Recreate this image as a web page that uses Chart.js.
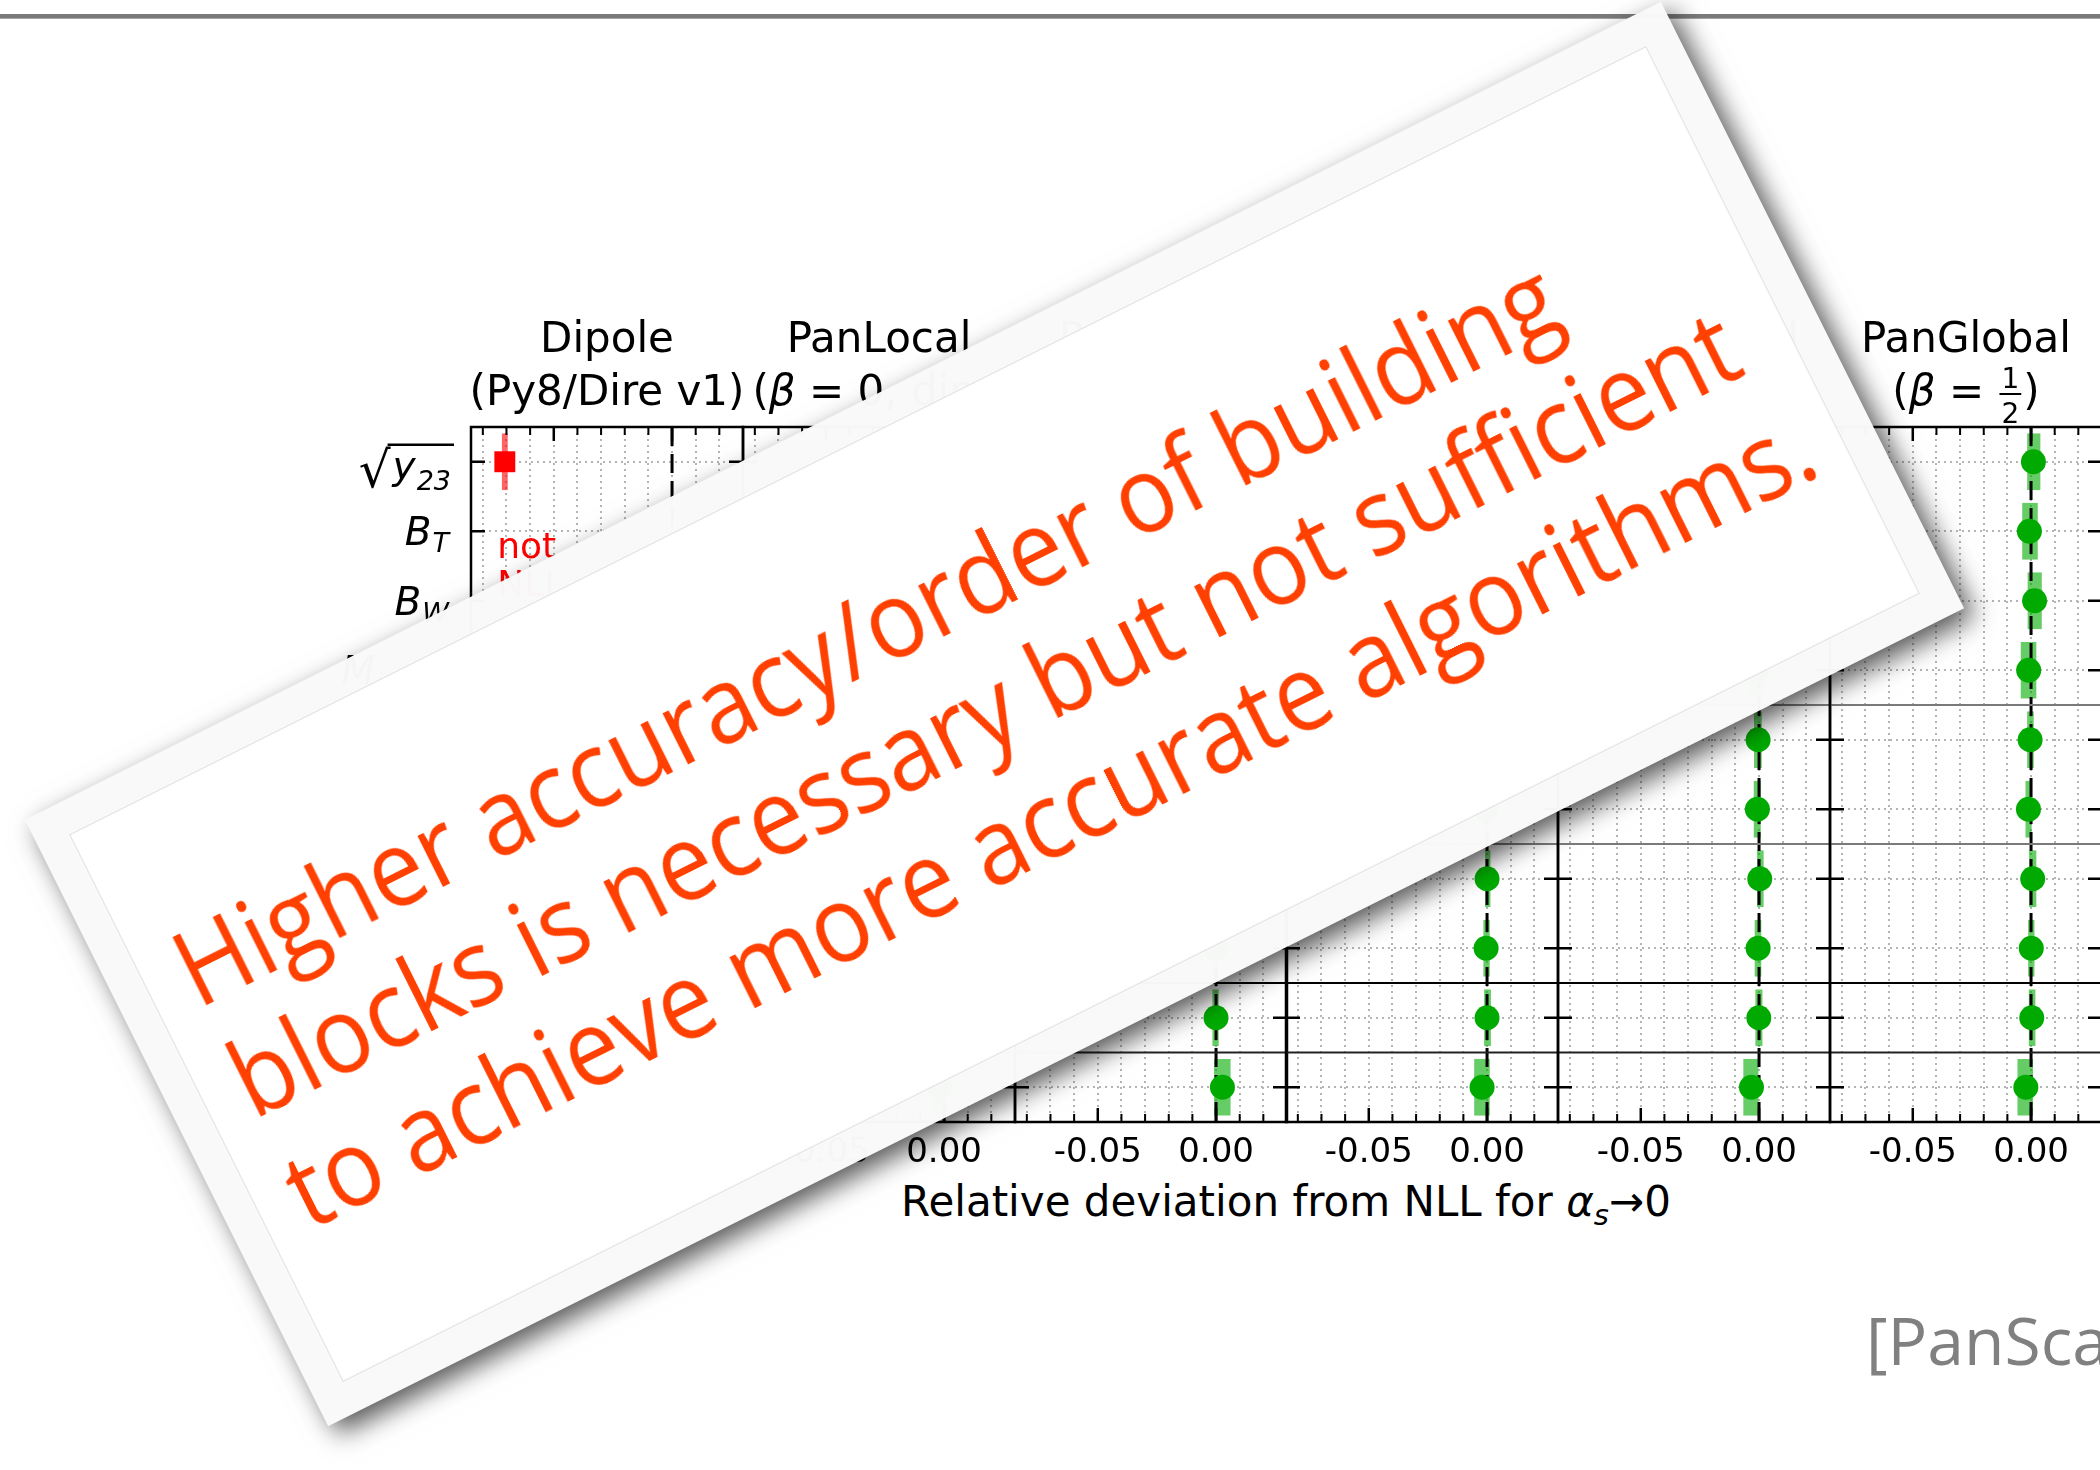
<!DOCTYPE html>
<html>
<head>
<meta charset="utf-8">
<script src="https://cdn.jsdelivr.net/npm/chart.js@4.4.1/dist/chart.umd.min.js"></script>
<style>
html, body { margin: 0; padding: 0; background: #fff; }
#page { position: relative; width: 2100px; height: 1470px; overflow: hidden; background: #fff; }
#topline { position: absolute; left: 0; top: 14px; width: 2100px; height: 5px;
  background: linear-gradient(#7a7a7a 0, #7a7a7a 70%, #b8b8b8 100%); }
canvas { position: absolute; }
#xtitle { position: absolute; left: 686px; width: 1200px; top: 1181px; text-align: center;
  font: 42px/42px "DejaVu Sans"; color: #000; white-space: nowrap; }
#xtitle sub { font-size: 29px; vertical-align: -9px; line-height: 0; }
#brand { position: absolute; left: 1866px; top: 1306px; font: 66px/66px "Open Sans";
  color: #808080; white-space: nowrap; }
#card { position: absolute; left: 80px; top: 375px; width: 1829px; height: 678px;
  transform: rotate(-26.565deg); background: rgba(249,249,249,0.985);
  box-shadow: 6px 12px 24px rgba(0,0,0,0.65); }
#inner { position: absolute; left: 33px; top: 33px; right: 33px; bottom: 33px;
  background: #fff; border: 1.5px solid #e0e0e0; }
.msg { position: absolute; left: 70px; font: 106px/106px "Open Sans"; color: #ff4000;
  white-space: nowrap; transform-origin: 0 0; transform: scaleX(0.925); }
</style>
</head>
<body>
<div id="page">
  <div id="topline"></div>
  <div id="xtitle">Relative deviation from NLL for <i>α</i><sub><i>s</i></sub>→0</div>
  <div id="brand">[PanScales]</div>
  <div id="card">
    <div id="inner"></div>
    <div class="msg" style="top:153px">Higher accuracy/order of building</div>
    <div class="msg" style="top:277px">blocks is necessary but not sufficient</div>
    <div class="msg" style="top:401px">to achieve more accurate algorithms.</div>
  </div>
</div>
<script>
// panel headers
const panelTitle = ['Dipole', 'PanLocal', 'PanLocal', 'PanLocal', 'PanGlobal', 'PanGlobal'];
const panelSubtitle = ['(Py8/Dire v1)', '(β = 0, dip.)', '(β = 1/2, dip.)', '(β = 1/2, ant.)', '(β = 0)', '(β = 1/2)'];

// observables, top to bottom
const obsSymbol = ['y', 'B', 'B', 'M', 'S', 'M', 'S', 'M', 'FC', 'S'];
const obsSub = ['23', 'T', 'W', 'j,β=0', 'j,β=½', 'j,β=½', 'j,β=1', 'j,β=1', '1', 'p,β=0'];
const obsRoot = [true, false, false, false, false, false, false, false, false, false];
const rowSeparators = [3.5, 5.5, 7.5, 8.5];

// x axis
const xGridTicks = [-0.08, -0.07, -0.06, -0.05, -0.04, -0.03, -0.02, -0.01, 0, 0.01, 0.02];
const xMajorTicks = [-0.05, 0];
const xTickLabels = ['-0.05', '0.00'];

// relative deviation and band per shower
const dipoleDev = [-0.0707, null, null, null, null, null, null, null, null, null];
const dipoleLo  = [-0.0718, null, null, null, null, null, null, null, null, null];
const dipoleHi  = [-0.0696, null, null, null, null, null, null, null, null, null];

const panLocal0Dev = [0.0008, -0.0005, 0.0012, -0.0009, 0.0003, -0.0006, 0.0004, -0.0002, 0.0005, -0.0018];
const panLocal0Lo  = [-0.0012, -0.0030, -0.0014, -0.0036, -0.0009, -0.0018, -0.0008, -0.0013, -0.0007, -0.0050];
const panLocal0Hi  = [0.0030, 0.0021, 0.0040, 0.0018, 0.0014, 0.0005, 0.0017, 0.0010, 0.0018, 0.0011];

const panLocalDipDev = [0.0005, -0.0008, 0.0010, -0.0006, -0.0003, -0.0005, 0.0002, -0.0003, 0.0000, 0.0027];
const panLocalDipLo  = [-0.0016, -0.0034, -0.0016, -0.0035, -0.0015, -0.0018, -0.0010, -0.0014, -0.0014, -0.0007];
const panLocalDipHi  = [0.0029, 0.0022, 0.0038, 0.0022, 0.0010, 0.0007, 0.0015, 0.0009, 0.0010, 0.0060];

const panLocalAntDev = [0.0006, -0.0004, 0.0011, -0.0010, -0.0002, -0.0006, 0.0000, -0.0004, 0.0000, -0.0021];
const panLocalAntLo  = [-0.0014, -0.0031, -0.0015, -0.0040, -0.0014, -0.0019, -0.0007, -0.0014, -0.0011, -0.0053];
const panLocalAntHi  = [0.0031, 0.0024, 0.0039, 0.0019, 0.0011, 0.0006, 0.0013, 0.0010, 0.0015, 0.0010];

const panGlobal0Dev = [0.0009, -0.0006, 0.0013, -0.0008, -0.0004, -0.0007, 0.0003, -0.0004, -0.0001, -0.0032];
const panGlobal0Lo  = [-0.0015, -0.0033, -0.0014, -0.0039, -0.0020, -0.0021, -0.0007, -0.0017, -0.0014, -0.0065];
const panGlobal0Hi  = [0.0035, 0.0025, 0.0041, 0.0022, 0.0010, 0.0006, 0.0018, 0.0008, 0.0013, 0.0000];

const panGlobalHalfDev = [0.0010, -0.0007, 0.0015, -0.0010, -0.0004, -0.0011, 0.0007, 0.0001, 0.0003, -0.0022];
const panGlobalHalfLo  = [-0.0015, -0.0036, -0.0013, -0.0042, -0.0015, -0.0022, -0.0007, -0.0011, -0.0008, -0.0056];
const panGlobalHalfHi  = [0.0038, 0.0027, 0.0044, 0.0021, 0.0010, 0.0001, 0.0021, 0.0013, 0.0017, 0.0007];

const showers = [
  { dev: dipoleDev, lo: dipoleLo, hi: dipoleHi, nll: false },
  { dev: panLocal0Dev, lo: panLocal0Lo, hi: panLocal0Hi, nll: true },
  { dev: panLocalDipDev, lo: panLocalDipLo, hi: panLocalDipHi, nll: true },
  { dev: panLocalAntDev, lo: panLocalAntLo, hi: panLocalAntHi, nll: true },
  { dev: panGlobal0Dev, lo: panGlobal0Lo, hi: panGlobal0Hi, nll: true },
  { dev: panGlobalHalfDev, lo: panGlobalHalfLo, hi: panGlobalHalfHi, nll: true }
];

// page geometry
const LEFT0 = 471, PANEL_STEP = 271.8, PANEL_W = 272;
const CANVAS_TOP = 250, CANVAS_H = 1000, PLOT_TOP = 427, PLOT_BOTTOM = 1122;
const FONT = '"DejaVu Sans"';

function drawSubtitle(ctx, str, cx, base) {
  const parts = str.split(/(β|1\/2)/).filter(s => s.length);
  const widths = parts.map(p => {
    if (p === '1/2') { ctx.font = '28px ' + FONT; return ctx.measureText('1').width + 8; }
    ctx.font = (p === 'β' ? 'italic ' : '') + '42px ' + FONT;
    return ctx.measureText(p).width;
  });
  let x = cx - widths.reduce((a, b) => a + b, 0) / 2;
  ctx.textAlign = 'left';
  parts.forEach((p, k) => {
    if (p === '1/2') {
      ctx.font = '28px ' + FONT;
      ctx.textAlign = 'center';
      const mx = x + widths[k] / 2;
      ctx.fillText('1', mx, base - 17);
      ctx.fillText('2', mx, base + 18);
      ctx.lineWidth = 2;
      ctx.beginPath(); ctx.moveTo(x + 2, base - 11); ctx.lineTo(x + widths[k] - 2, base - 11); ctx.stroke();
      ctx.textAlign = 'left';
    } else {
      ctx.font = (p === 'β' ? 'italic ' : '') + '42px ' + FONT;
      ctx.fillText(p, x, base);
    }
    x += widths[k];
  });
}

function drawObsLabel(ctx, r, xRight, yMid) {
  const root = obsRoot[r];
  const base = yMid + (root ? 17 : 14);
  const subBase = base + (root ? 11 : 7);
  ctx.font = 'italic 39px ' + FONT;
  const w1 = ctx.measureText(obsSymbol[r]).width;
  ctx.font = 'italic 27px ' + FONT;
  const w2 = ctx.measureText(obsSub[r]).width;
  ctx.font = '50px ' + FONT;
  const rw = root ? ctx.measureText('√').width : 0;
  let x = xRight - w1 - w2 - 4 - rw;
  ctx.textAlign = 'left';
  if (root) {
    ctx.fillText('√', x, yMid + 25);
    ctx.lineWidth = 2.4;
    ctx.beginPath(); ctx.moveTo(x + rw - 3, yMid - 17); ctx.lineTo(xRight + 2, yMid - 17); ctx.stroke();
    x += rw + 2;
  }
  ctx.font = 'italic 39px ' + FONT;
  ctx.fillText(obsSymbol[r], x, base);
  ctx.font = 'italic 27px ' + FONT;
  ctx.fillText(obsSub[r], x + w1 + 1, subBase);
}

const decorPlugin = {
  id: 'decor',
  afterDraw(chart, args, opts) {
    const ctx = chart.ctx, a = chart.chartArea;
    const xs = chart.scales.x, ys = chart.scales.y;
    const i = opts.index;
    ctx.save();
    ctx.strokeStyle = '#000';
    ctx.fillStyle = '#000';
    // inward ticks on all sides
    xGridTicks.forEach(v => {
      const px = xs.getPixelForValue(v);
      const len = xMajorTicks.includes(v) ? 14 : 8;
      ctx.lineWidth = xMajorTicks.includes(v) ? 2.5 : 2;
      ctx.beginPath();
      ctx.moveTo(px, a.top); ctx.lineTo(px, a.top + len);
      ctx.moveTo(px, a.bottom); ctx.lineTo(px, a.bottom - len);
      ctx.stroke();
    });
    ctx.lineWidth = 2.5;
    obsSymbol.forEach((s, r) => {
      const py = ys.getPixelForValue(r);
      ctx.beginPath();
      ctx.moveTo(a.left, py); ctx.lineTo(a.left + 14, py);
      ctx.moveTo(a.right, py); ctx.lineTo(a.right - 14, py);
      ctx.stroke();
    });
    ctx.lineWidth = 2.5;
    ctx.strokeRect(a.left, a.top, a.right - a.left, a.bottom - a.top);
    // bottom tick labels
    ctx.font = '34px ' + FONT;
    ctx.textAlign = 'center';
    xMajorTicks.forEach((v, k) => ctx.fillText(xTickLabels[k], xs.getPixelForValue(v), 1162 - CANVAS_TOP));
    // titles
    const cx = (a.left + a.right) / 2;
    ctx.font = '42px ' + FONT;
    ctx.fillText(panelTitle[i], cx, 352 - CANVAS_TOP);
    drawSubtitle(ctx, panelSubtitle[i], cx, 405 - CANVAS_TOP);
    if (i === 0) {
      obsSymbol.forEach((s, r) => drawObsLabel(ctx, r, a.left - 19, ys.getPixelForValue(r)));
      ctx.fillStyle = '#ff0000';
      ctx.font = '36px ' + FONT;
      ctx.textAlign = 'left';
      ctx.fillText('not', xs.getPixelForValue(-0.0739), ys.getPixelForValue(1.38));
      ctx.fillText('NLL', xs.getPixelForValue(-0.0739), ys.getPixelForValue(1.93));
    }
    ctx.restore();
  }
};

const page = document.getElementById('page');
const card = document.getElementById('card');

showers.forEach((sh, i) => {
  const padL = i === 0 ? 260 : 40, padR = 40;
  const cv = document.createElement('canvas');
  const W = padL + PANEL_W + padR;
  cv.width = W; cv.height = CANVAS_H;
  cv.style.width = W + 'px'; cv.style.height = CANVAS_H + 'px';
  cv.style.left = Math.round(LEFT0 + i * PANEL_STEP - padL) + 'px';
  cv.style.top = CANVAS_TOP + 'px';
  page.insertBefore(cv, card);

  const rowsWith = sh.dev.map((d, r) => r).filter(r => sh.dev[r] !== null);
  const markColor = sh.nll ? '#00aa00' : '#ff0000';
  const bandColor = sh.nll ? 'rgba(0,170,0,0.6)' : 'rgba(255,0,0,0.6)';

  const datasets = [
    {
      type: 'bar', indexAxis: 'y', order: 4,
      data: rowsWith.map(r => ({ x: [sh.lo[r], sh.hi[r]], y: r })),
      backgroundColor: bandColor, borderWidth: 0, barThickness: 56
    },
    {
      type: 'line', order: 3,
      data: [{ x: 0, y: -0.5 }, { x: 0, y: 9.5 }],
      borderColor: '#000', borderWidth: 3, borderDash: [19, 8], pointRadius: 0
    }
  ];
  const sepColors = ['#7a7a7a', '#7a7a7a', '#000', '#222'];
  rowSeparators.forEach((s, k) => datasets.push({
    type: 'line', order: 2,
    data: [{ x: -0.085, y: s }, { x: 0.03, y: s }],
    borderColor: sepColors[k], borderWidth: 2, pointRadius: 0
  }));
  datasets.push({
    type: 'scatter', order: 1,
    data: rowsWith.map(r => ({ x: sh.dev[r], y: r })),
    backgroundColor: markColor, borderWidth: 0,
    pointStyle: sh.nll ? 'circle' : 'rect',
    pointRadius: sh.nll ? 12.5 : 14.8
  });

  const gridOpts = { color: '#b4b4b4', lineWidth: 2, drawTicks: false, offset: false };
  new Chart(cv.getContext('2d'), {
    type: 'scatter',
    data: { datasets },
    options: {
      responsive: false, animation: false, devicePixelRatio: 1,
      layout: { padding: { left: padL, right: padR, top: PLOT_TOP - CANVAS_TOP, bottom: CANVAS_TOP + CANVAS_H - PLOT_BOTTOM } },
      plugins: { legend: { display: false }, tooltip: { enabled: false }, decor: { index: i } },
      scales: {
        x: {
          type: 'linear', min: -0.085, max: 0.03, offset: false,
          afterBuildTicks: s => { s.ticks = xGridTicks.map(v => ({ value: v })); },
          afterFit: s => { s.height = 0; },
          ticks: { display: false }, grid: gridOpts,
          border: { display: false, dash: [2, 4] }
        },
        y: {
          type: 'linear', min: -0.5, max: 9.5, reverse: true, offset: false,
          afterBuildTicks: s => { s.ticks = obsSymbol.map((o, r) => ({ value: r })); },
          afterFit: s => { s.width = 0; },
          ticks: { display: false }, grid: gridOpts,
          border: { display: false, dash: [2, 4] }
        }
      }
    },
    plugins: [decorPlugin]
  });
});
</script>
</body>
</html>
